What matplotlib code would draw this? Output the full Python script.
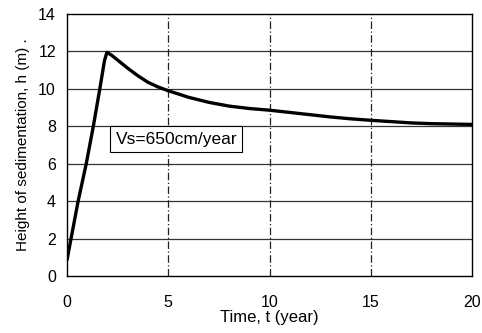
import matplotlib
matplotlib.use("Agg")
import matplotlib.pyplot as plt

# data
time_year = [0.0, 0.2, 0.55, 0.95, 1.3, 1.62, 1.85, 1.97, 2.2, 2.6, 3.0, 3.5, 4.0,
             4.5, 5.0, 6.0, 7.0, 8.0, 9.0, 10.0, 11.0, 12.0, 13.0, 14.0, 15.0,
             16.0, 17.0, 18.0, 19.0, 20.0]
height_m = [0.85, 2.0, 4.0, 6.0, 8.0, 10.0, 11.5, 11.95, 11.8, 11.45, 11.1, 10.7, 10.35,
            10.1, 9.9, 9.55, 9.28, 9.08, 8.95, 8.86, 8.74, 8.62, 8.5, 8.4, 8.32,
            8.25, 8.18, 8.14, 8.12, 8.1]
x_ticks = [0, 5, 10, 15, 20]
y_ticks = [0, 2, 4, 6, 8, 10, 12, 14]
label_text = "Vs=650cm/year"

plt.rcParams['font.family'] = ['Liberation Sans', 'DejaVu Sans']

fig = plt.figure(figsize=(4.82, 3.33), dpi=100)
ax = fig.add_axes([67/482, 1 - 276/333, 405/482, 262/333])

ax.set_xlim(0, 20)
ax.set_ylim(0, 14)
ax.set_xticks(x_ticks)
ax.set_yticks(y_ticks)

for y in y_ticks[1:-1]:
    ax.axhline(y, color='#333333', lw=0.9, zorder=1)
for x in x_ticks[1:-1]:
    ax.axvline(x, color='#222222', lw=0.9, ls=(0, (6, 2, 1, 2)), zorder=1)

ax.plot(time_year, height_m, color='black', lw=2.4, zorder=3,
        solid_capstyle='round', solid_joinstyle='round')

ax.text(5.4, 7.32, label_text, fontsize=12.5, ha='center', va='center', zorder=4,
        bbox=dict(boxstyle='square,pad=0.3', fc='white', ec='black', lw=0.8))

for s in ax.spines.values():
    s.set_color('black')
    s.set_linewidth(1.0)

ax.tick_params(axis='both', length=0, labelsize=11.5)
ax.tick_params(axis='x', pad=14)
ax.tick_params(axis='y', pad=8)

ax.set_xlabel("Time, t (year)", fontsize=12, labelpad=0)
ax.set_ylabel("Height of sedimentation, h (m) .", fontsize=11, labelpad=6)

fig.savefig("out.png", dpi=100)
